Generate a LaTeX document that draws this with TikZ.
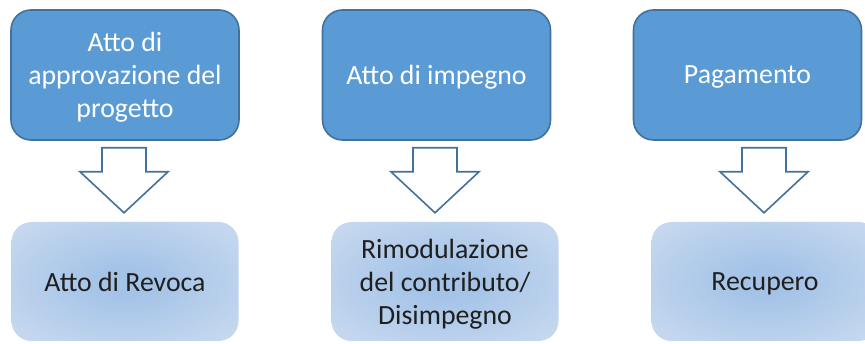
\documentclass[tikz,border=0pt]{standalone}
\usepackage{fontspec}
\setmainfont{Carlito}
\usetikzlibrary{calc}
\definecolor{topfill}{HTML}{5B9BD5}
\definecolor{topline}{HTML}{41719C}
\definecolor{glowin}{HTML}{A4C3E7}
\definecolor{glowout}{HTML}{DCE6F4}
\pgfdeclareradialshading{bluglow}{\pgfpoint{0bp}{0bp}}{color(0bp)=(glowin); color(6bp)=(glowin); color(50bp)=(glowout); color(72bp)=(glowout)}
\def\blockarrow(#1){\draw[blockarrow] (#1) ++(-22,0) -- ++(44,0) -- ++(0,24) -- ++(22,0) -- ++(-44,41) -- ++(-44,-41) -- ++(22,0) -- cycle;}
\tikzset{
  stepbox/.style={draw=topline, line width=1.6pt, fill=topfill, rounded corners=20pt,
    minimum width=228pt, minimum height=130pt, inner sep=0pt, text=white, text depth=-4pt,
    align=center, font=\fontsize{27.8}{33}\selectfont},
  outcome/.style={shading=bluglow, rounded corners=20pt,
    minimum width=227pt, minimum height=119pt, inner sep=0pt, text=black!88, text depth=-6pt,
    align=center, font=\fontsize{27.8}{33}\selectfont},
  blockarrow/.style={draw=topline, line width=1.6pt, fill=white, line join=miter}
}
\begin{document}
\begin{tikzpicture}[x=1pt,y=-1pt]
		\useasboundingbox (0,0) rectangle (865,344);
		
		%%%%% phases %%%%%
		\node[stepbox] (approv) at (125,75) {Atto di\\approvazione del\\progetto};
		\node[stepbox] (impegno) at (436.5,75) {Atto di impegno};
		\node[stepbox] (pagam) at (747.5,75) {Pagamento};
		
		%%%%% outcomes %%%%%
		\node[outcome] (revoca) at (125,281.5) {Atto di Revoca};
		\node[outcome] (rimod) at (445,281.5) {Rimodulazione\\del contributo/\\Disimpegno};
		\node[outcome] (recup) at (765,281.5) {Recupero};
		
		%%%%% arrows %%%%%
		\path (approv.south) ++(-1,7) coordinate (a1);
		\path (impegno.south) ++(-1.5,7) coordinate (a2);
		\path (recup.north |- pagam.south) ++(-1,7) coordinate (a3);
		\blockarrow(a1)
		\blockarrow(a2)
		\blockarrow(a3)
	\end{tikzpicture}
\end{document}
